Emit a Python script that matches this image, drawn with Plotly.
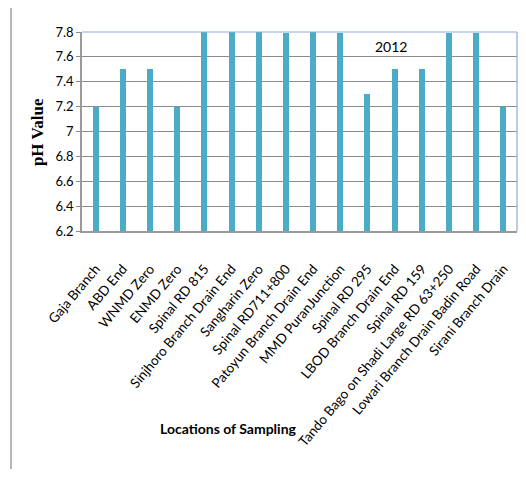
import plotly.graph_objects as go

locations = ["Gaja Branch", "ABD End", "WNMD Zero", "ENMD Zero", "Spinal RD 815",
             "Sinjhoro Branch Drain End", "Sangharin Zero", "Spinal RD711+800",
             "Patoyun Branch Drain End", "MMD PuranJunction", "Spinal RD 295",
             "LBOD Branch Drain End", "Spinal RD 159", "Tando Bago on Shadi Large RD 63+250",
             "Lowari Branch Drain Badin Road", "Sirani Branch Drain"]
ph_2012 = [7.2, 7.5, 7.5, 7.2, 7.8, 7.8, 7.8, 7.79, 7.8, 7.79, 7.3, 7.5, 7.5, 7.79, 7.79, 7.2]
y_ticks = [6.2, 6.4, 6.6, 6.8, 7.0, 7.2, 7.4, 7.6, 7.8]
y_tick_text = ["6.2", "6.4", "6.6", "6.8", "7", "7.2", "7.4", "7.6", "7.8"]
y_base = 6.2

fig = go.Figure()
fig.add_trace(go.Bar(x=locations, y=[v - y_base for v in ph_2012], base=y_base, width=0.22,
                     marker=dict(color="#4BACC6", line=dict(width=0)),
                     showlegend=False))

fig.update_layout(
    width=510, height=461,
    margin=dict(l=74, r=1, t=24, b=238, autoexpand=False),
    paper_bgcolor="white", plot_bgcolor="white",
    font=dict(family="Lato", color="#000000"),
    xaxis=dict(type="category", tickangle=-50, tickfont=dict(size=13.5, family="Lato"),
               showline=True, linecolor="#9a9a9a", linewidth=1.5, showgrid=False,
               ticks="", ticklabelstandoff=23, range=[-0.5, 15.5], automargin=False),
    yaxis=dict(range=[6.2, 7.8], tickvals=y_ticks, ticktext=y_tick_text,
               tickfont=dict(size=13, family="Lato"), showline=True, linecolor="#9a9a9a",
               linewidth=1.5, gridcolor="#8c8c8c", gridwidth=1, ticks="outside",
               ticklen=4, tickcolor="#8c8c8c", zeroline=False, automargin=False),
    shapes=[
        dict(type="line", xref="paper", yref="paper", x0=0, x1=1, y0=1, y1=1,
             line=dict(color="#8eaadb", width=1.2), layer="above"),
        dict(type="line", xref="paper", yref="paper", x0=1, x1=1, y0=0, y1=1,
             line=dict(color="#8eaadb", width=1.2), layer="above"),
        dict(type="rect", xref="paper", yref="paper", x0=-0.1632, x1=1.05, y0=-1.3, y1=1.1407,
             line=dict(color="#a0a0a0", width=1.5), layer="below"),
    ],
    annotations=[
        dict(text="<b>pH Value</b>", xref="paper", yref="paper", x=-0.1034, y=0.497,
             textangle=-90, showarrow=False, font=dict(family="Liberation Serif", size=17),
             xanchor="center", yanchor="middle"),
        dict(text="<b>Locations of Sampling</b>", xref="paper", yref="paper", x=0.336, y=-0.99,
             showarrow=False, font=dict(family="Lato", size=14), xanchor="center", yanchor="middle"),
        dict(text="2012", xref="paper", yref="paper", x=0.71, y=0.925, showarrow=False,
             font=dict(family="Lato", size=14), xanchor="center", yanchor="middle"),
    ],
    bargap=0,
)
fig.write_html("out.html")
